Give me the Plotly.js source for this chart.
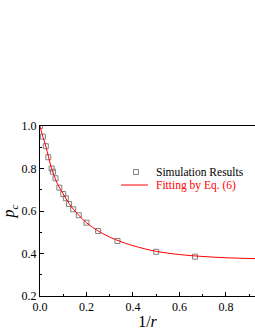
<!DOCTYPE html>
<html>
<head>
<meta charset="utf-8">
<script src="https://cdn.plot.ly/plotly-3.0.1.min.js"></script>
<style>html,body{margin:0;padding:0;background:#fff;}#chart{width:255px;height:330px;}</style>
</head>
<body>
<div id="chart"></div>
<script>
// Simulation results (1/r, p_c)
const simX = [0, 0.0125, 0.025, 0.0357, 0.05, 0.0556, 0.0667, 0.0833, 0.1, 0.1111, 0.125, 0.1429, 0.1667, 0.2, 0.25, 0.3333, 0.5, 0.6667];
const simY = [1.0, 0.95, 0.905, 0.853, 0.80, 0.785, 0.754, 0.71, 0.68, 0.66, 0.633, 0.608, 0.58, 0.545, 0.506, 0.459, 0.408, 0.385];
// Fitted curve
const fitX = [0, 0.01, 0.025, 0.05, 0.075, 0.1, 0.125, 0.15, 0.2, 0.25, 0.3, 0.35, 0.4, 0.5, 0.6, 0.7, 0.8, 0.925];
const fitY = [1.0, 0.958, 0.905, 0.80, 0.728, 0.68, 0.635, 0.600, 0.545, 0.506, 0.477, 0.455, 0.437, 0.410, 0.395, 0.386, 0.380, 0.376];
const xTicks = [0, 0.2, 0.4, 0.6, 0.8];
const yTicks = [0.2, 0.4, 0.6, 0.8, 1.0];
const seriesNames = ['Simulation Results', 'Fitting by Eq. (6)'];

const fam = 'Liberation Serif, Times New Roman, serif';
const font = {family: fam, color: '#000', size: 12};
const markerColor = '#808080';
const lineColor = '#ff0000';

const traces = [
  {x: simX, y: simY, type: 'scatter', mode: 'markers', name: seriesNames[0],
   marker: {symbol: 'square-open', size: 5, color: markerColor, line: {width: 1, color: markerColor}}},
  {x: fitX, y: fitY, type: 'scatter', mode: 'lines', name: seriesNames[1],
   line: {color: lineColor, width: 1, shape: 'spline', smoothing: 1}}
];

const axisCommon = {
  showline: true, linecolor: '#000', linewidth: 1, mirror: true,
  ticks: 'inside', ticklen: 4, tickcolor: '#000', tickwidth: 1,
  showgrid: false, zeroline: false, tickformat: '.1f',
  tickfont: font,
  minor: {ticks: 'inside', ticklen: 2, tickcolor: '#000', dtick: 0.1}
};

// manual legend (compact spacing as in the reference)
const legendShapes = [
  {type: 'rect', xref: 'paper', yref: 'paper', x0: 0.4349, x1: 0.4581, y0: 0.7147, y1: 0.7441,
   line: {color: markerColor, width: 1}, fillcolor: 'rgba(0,0,0,0)'},
  {type: 'line', xref: 'paper', yref: 'paper', x0: 0.3767, x1: 0.5023, y0: 0.6529, y1: 0.6529,
   line: {color: lineColor, width: 1}}
];
const legendAnn = [
  {xref: 'paper', yref: 'paper', x: 0.5302, y: 0.7265, xanchor: 'left', yanchor: 'middle',
   text: seriesNames[0], showarrow: false, font: {family: fam, size: 11.5, color: '#000'}},
  {xref: 'paper', yref: 'paper', x: 0.5302, y: 0.6529, xanchor: 'left', yanchor: 'middle',
   text: seriesNames[1], showarrow: false, font: {family: fam, size: 11.5, color: lineColor}}
];

const layout = {
  width: 255, height: 330,
  margin: {l: 40, r: 0, t: 126, b: 34},
  paper_bgcolor: '#fff', plot_bgcolor: '#fff',
  font: font,
  showlegend: false,
  shapes: legendShapes,
  annotations: legendAnn,
  xaxis: Object.assign({}, axisCommon, {range: [0, 0.925], tickvals: xTicks,
    title: {text: '1/<i>r</i>', font: {family: fam, size: 16, color: '#000'}, standoff: 3}}),
  yaxis: Object.assign({}, axisCommon, {range: [0.2, 1.0], tickvals: yTicks,
    title: {text: '<i>p<sub>c</sub></i>', font: {family: fam, size: 16, color: '#000'}, standoff: 2}})
};

Plotly.newPlot('chart', traces, layout, {displayModeBar: false, staticPlot: true});
</script>
</body>
</html>
